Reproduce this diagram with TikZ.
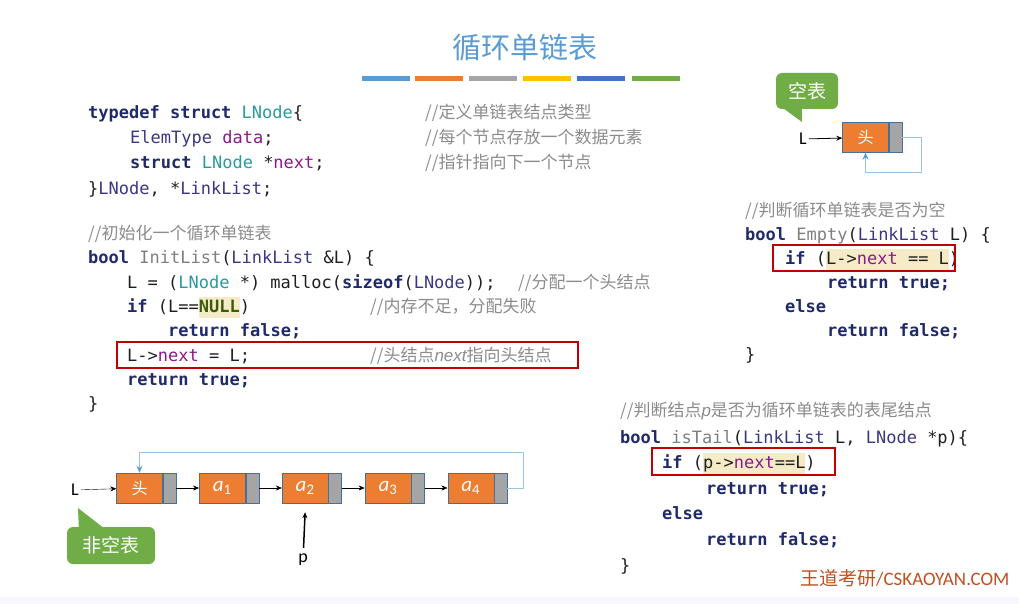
\documentclass[tikz,border=0pt]{standalone}
\usepackage{fontspec}
\setmainfont{Carlito}
\newfontfamily\cjk{Noto Sans CJK SC}
\newfontfamily\mono{DejaVu Sans Mono}
\newfontfamily\latinit{Liberation Sans}
\usetikzlibrary{arrows.meta,positioning}
\definecolor{kwc}{HTML}{1F2A6B}
\definecolor{tyc}{HTML}{2A9A9F}
\definecolor{tnc}{HTML}{3B3785}
\definecolor{fldc}{HTML}{8A1A8A}
\definecolor{fnc}{HTML}{7F7F7F}
\definecolor{cmc}{HTML}{8C8C8C}
\definecolor{nulc}{HTML}{3D5B0D}
\definecolor{hlbg}{HTML}{F5EBC6}
\definecolor{redbox}{HTML}{C00000}
\definecolor{nodeor}{HTML}{ED7D31}
\definecolor{nodegr}{HTML}{A5A5A5}
\definecolor{nodeln}{HTML}{41719C}
\definecolor{loopln}{HTML}{9DC3E6}
\definecolor{loopar}{HTML}{5B9BD5}
\definecolor{tipgr}{HTML}{70AD47}
\definecolor{titlec}{HTML}{5B9BD5}
\definecolor{barb}{HTML}{4472C4}
\definecolor{bary}{HTML}{FFC000}
\definecolor{wdc}{HTML}{C0501F}
\newcommand\kw[1]{\textcolor{kwc}{\bfseries #1}}
\newcommand\ty[1]{\textcolor{tyc}{#1}}
\newcommand\tn[1]{\textcolor{tnc}{#1}}
\newcommand\fld[1]{\textcolor{fldc}{#1}}
\newcommand\fnm[1]{\textcolor{fnc}{#1}}
\newcommand\cmt[1]{\textcolor{cmc}{\cjk #1}}
\newcommand\hlt[1]{{\setlength\fboxsep{0pt}\colorbox{hlbg}{\strut #1}}}
\newcommand\elem[1]{{\itshape a}\textsubscript{\upshape #1}}

\begin{document}
\begin{tikzpicture}[x=1pt, y=-1pt, >={Stealth[length=6pt,width=5pt]},
  code/.style={anchor=base west, inner sep=0, font=\mono\fontsize{17}{21}\selectfont, text=black!88},
  note/.style={anchor=base west, inner sep=0, font=\fontsize{17}{21}\selectfont},
  datbox/.style={draw=nodeln, fill=nodeor, text=white, minimum width=46pt, minimum height=30pt, inner sep=0, font=\fontsize{21}{24}\selectfont},
  ptrbox/.style={draw=nodeln, fill=nodegr, minimum width=13pt, minimum height=30pt, inner sep=0},
  tipbox/.style={fill=tipgr, text=white, rounded corners=6pt, font=\cjk\fontsize{19}{22}\selectfont},
  markbox/.style={draw=redbox, line width=2.2pt},
  back/.style={draw=loopln, line width=1pt, -{Stealth[length=7pt,width=6pt,loopar]}},
  lbl/.style={font=\fontsize{18}{20}\selectfont, inner sep=2pt}]
\useasboundingbox (0,0) rectangle (1019,604);
\fill[white] (0,0) rectangle (1019,604);
\fill[blue!3] (0,597) rectangle (1019,604);

% title
\node[font=\cjk\fontsize{29}{34}\selectfont, text=titlec] (title) at (525,48) {循环单链表};
\fill[loopar] (362,76) rectangle (410,81);\fill[nodeor] (415,76) rectangle (463,81);\fill[nodegr] (469,76) rectangle (517,81);
\fill[bary] (523,76) rectangle (571,81);\fill[barb] (577,76) rectangle (625,81);\fill[tipgr] (632,76) rectangle (680,81);

% struct
\node[code] (t1) at (88,119) {\kw{typedef struct} \ty{LNode}\{};
\node[code] (t2) at (130,144) {\tn{ElemType} \fld{data};};
\node[code] (t3) at (130,169) {\kw{struct} \ty{LNode} *\fld{next};};
\node[code] (t4) at (88,194) {\}\tn{LNode}, *\tn{LinkList};};
\node[note] (tc1) at (425,119) {\cmt{//定义单链表结点类型}};
\node[note] (tc2) at (425,144) {\cmt{//每个节点存放一个数据元素}};
\node[note] (tc3) at (425,169) {\cmt{//指针指向下一个节点}};

% InitList
\node[note] (i0) at (88,239) {\cmt{//初始化一个循环单链表}};
\node[code] (i1) at (88,263) {\kw{bool} \fnm{InitList}(\tn{LinkList} \&L) \{};
\node[code] (i2) at (127,288) {L = (\ty{LNode} *) malloc(\kw{sizeof}(\tn{LNode}));};
\node[code] (i3) at (127,312) {\kw{if} (L==\hlt{\textcolor{nulc}{\bfseries NULL}})};
\node[code] (i4) at (168,336) {\kw{return false;}};
\node[code] (i5) at (127,361) {L->\fld{next} = L;};
\node[code] (i6) at (127,385) {\kw{return true;}};
\node[code] (i7) at (88,409) {\}};
\node[note] (ic2) at (518,288) {\cmt{//分配一个头结点}};
\node[note] (ic3) at (370,312) {\cmt{//内存不足，分配失败}};
\node[note] (ic5) at (370,361) {\cmt{//头结点{\latinit\itshape next}指向头结点}};
\draw[markbox] (117,342) rectangle (578,368);

% empty list
\node[tipbox, minimum width=62pt, minimum height=36pt] (emp) at (807,91) {空表};
\fill[tipgr] ([xshift=8pt,yshift=0.5pt]emp.south west) -- (802,122) -- ([xshift=26pt,yshift=0.5pt]emp.south west) -- cycle;
\node[lbl] (eL) at (803,139) {L};
\node[datbox, font=\cjk\fontsize{16}{18}\selectfont] (eh) at (865.5,137.5) {头};
\node[ptrbox, right=0pt of eh] (ehp) {};
\coordinate (ec) at (921,173);
\draw[->, line width=0.8pt] (eL) -- (eh);
\draw[back] (ehp.east) -| (ec) -| (eh.south);

% Empty
\node[note] (e0) at (745,216) {\cmt{//判断循环单链表是否为空}};
\node[code] (e1) at (745,240) {\kw{bool} \fnm{Empty}(\tn{LinkList} L) \{};
\node[code] (e2) at (785,264) {\kw{if} (\hlt{L->\fld{next} == L})};
\node[code] (e3) at (827,288) {\kw{return true;}};
\node[code] (e4) at (785,312) {\kw{else}};
\node[code] (e5) at (827,336) {\kw{return false;}};
\node[code] (e6) at (745,360) {\}};
\draw[markbox] (773,245) rectangle (955,271);

% isTail
\node[note] (s0) at (620,416) {\cmt{//判断结点{\latinit\itshape p}是否为循环单链表的表尾结点}};
\node[code] (s1) at (620,443) {\kw{bool} \fnm{isTail}(\tn{LinkList} L, \tn{LNode} *p)\{};
\node[code] (s2) at (662,468) {\kw{if} (\hlt{p->\fld{next}==L})};
\node[code] (s3) at (706,494) {\kw{return true;}};
\node[code] (s4) at (662,519) {\kw{else}};
\node[code] (s5) at (706,545) {\kw{return false;}};
\node[code] (s6) at (620,571) {\}};
\draw[markbox] (652,448) rectangle (835,475);
\node[note, text=wdc, font=\fontsize{19}{22}\selectfont] (wd) at (800,585) {{\cjk 王道考研}/CSKAOYAN.COM};

% circular list
\node[lbl] (L) at (75,490) {L};
\node[datbox, font=\cjk\fontsize{16}{18}\selectfont] (hd) at (139.5,488) {头};
\node[ptrbox, right=0pt of hd] (hdp) {};
\node[datbox, right=23pt of hdp] (a1) {\elem1};
\node[ptrbox, right=0pt of a1] (a1p) {};
\node[datbox, right=23pt of a1p] (a2) {\elem2};
\node[ptrbox, right=0pt of a2] (a2p) {};
\node[datbox, right=23pt of a2p] (a3) {\elem3};
\node[ptrbox, right=0pt of a3] (a3p) {};
\node[datbox, right=23pt of a3p] (a4) {\elem4};
\node[ptrbox, right=0pt of a4] (a4p) {};
\coordinate (lc) at (523,452);
\draw[->] (L) -- (hd);\draw[->] (hdp) -- (a1);\draw[->] (a1p) -- (a2);\draw[->] (a2p) -- (a3);\draw[->] (a3p) -- (a4);
\draw[back] (a4p.east) -| (lc) -| (hd.north);
\node[lbl, inner sep=6pt] (p) at (303,560) {p};
\draw[->, line width=1.5pt] (p) -- ([yshift=-9pt]a2.south);
\node[tipbox, minimum width=88pt, minimum height=37pt] (nemp) at (111,545.5) {非空表};
\fill[tipgr] ([xshift=12pt,yshift=-0.5pt]nemp.north west) -- (78,508) -- ([xshift=36pt,yshift=-0.5pt]nemp.north west) -- cycle;
\end{tikzpicture}
\end{document}
